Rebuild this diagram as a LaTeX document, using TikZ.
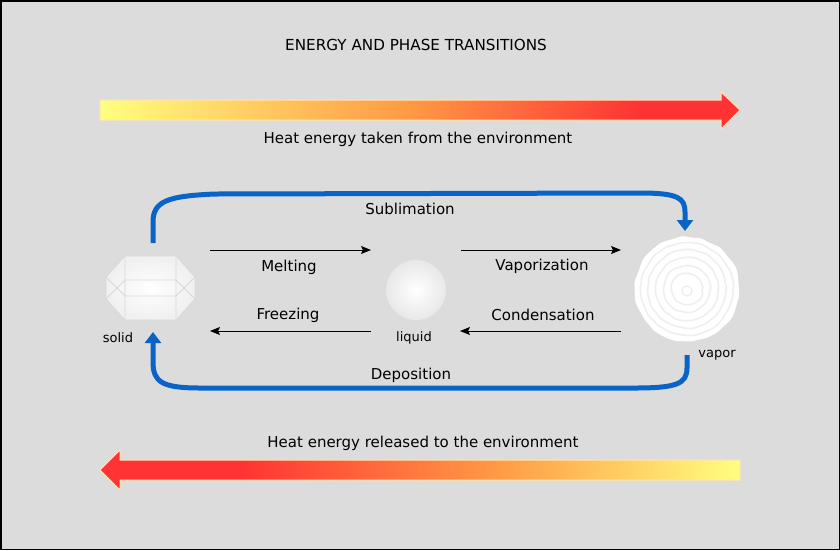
\documentclass[tikz,border=0pt]{standalone}
\usepackage{fontspec}
\setmainfont{DejaVu Sans}
\usetikzlibrary{arrows.meta,decorations.pathmorphing}
\definecolor{bg}{HTML}{DCDCDC}
\definecolor{hy}{HTML}{FFFF80}
\definecolor{ho}{HTML}{FF9A45}
\definecolor{hr}{HTML}{FF3333}
\definecolor{edgecol}{HTML}{FFE6B0}
\definecolor{blu}{HTML}{0A64C8}
\definecolor{facet}{HTML}{D8D8D8}
\definecolor{ring}{HTML}{EFEFEF}
\pgfdeclarehorizontalshading{heatR}{100bp}{color(0bp)=(hy); color(25bp)=(hy); color(49bp)=(ho); color(67bp)=(hr); color(100bp)=(hr)}
\pgfdeclarehorizontalshading{heatL}{100bp}{color(0bp)=(hr); color(25bp)=(hr); color(36bp)=(hr); color(56bp)=(ho); color(75bp)=(hy); color(100bp)=(hy)}
\begin{document}
\begin{tikzpicture}[x=1pt,y=-1pt,
  lbl/.style={inner sep=0pt,font=\fontsize{15}{18}\selectfont},
  small/.style={inner sep=0pt,font=\fontsize{13}{15}\selectfont},
  flow/.style={-{Stealth[length=10pt,width=8pt,inset=2pt]},line width=1pt},
  phase/.style={line width=5pt,draw=blu,-{Triangle[length=11pt,width=16pt]}},
  heatarrow/.style={draw=edgecol,line width=1pt}]
\useasboundingbox (0,0) rectangle (840,550);
\fill[bg] (0,0) rectangle (840,550);
\draw[black,line width=1.5pt] (0.75,0.75) rectangle (839.25,549.25);

% title
\node[lbl,font=\fontsize{15.2}{18}\selectfont] (title) at (416,45) {ENERGY AND PHASE TRANSITIONS};

% heat arrows
\path[shading=heatR,heatarrow] (100,100) -- (721,100) -- (721,92) -- (740,110) -- (721,129) -- (721,120) -- (100,120) -- cycle;
\node[lbl] (heatin) at (418,139) {Heat energy taken from the environment};
\path[shading=heatL,heatarrow] (740,460) -- (120,460) -- (120,450) -- (100,470) -- (120,490) -- (120,480) -- (740,480) -- cycle;
\node[lbl] (heatout) at (423,443.5) {Heat energy released to the environment};

% solid
\shade[inner color=white,outer color=black!6,draw=facet,line width=0.8pt]
  (125,256) -- (176,256) -- (195,277) -- (195,299) -- (176,320) -- (125,320) -- (106,299) -- (106,277) -- cycle;
\draw[facet,line width=0.8pt] (125,256) -- (125,320) (176,256) -- (176,320)
  (125,280) -- (176,280) (125,296) -- (176,296)
  (106,277) -- (125,296) (106,299) -- (125,280)
  (195,277) -- (176,296) (195,299) -- (176,280);
\node[small] (solid) at (118,338) {solid};

% liquid
\shade[inner color=white,outer color=black!9] (416,290) circle (30);
\node[small] (liquid) at (414,338) {liquid};

% vapor
\pgfmathsetseed{7}
\fill[white,decorate,decoration={random steps,segment length=7pt,amplitude=1pt},rounded corners=3pt] (687,289) circle (52);
\pgfmathsetseed{11}
\foreach \r in {46,39,31,23,15}{
  \draw[ring,line width=1.6pt,decorate,decoration={random steps,segment length=6pt,amplitude=0.8pt},rounded corners=2pt] (687,289) circle (\r);
}
\draw[black!7,line width=1.2pt] (687,291) circle (5);
\node[small] (vapor) at (717,355) {vapor};

% black transition arrows
\coordinate (melt0) at (210,250);
\coordinate (melt1) at (371,250);
\coordinate (vap0) at (461,250);
\coordinate (vap1) at (621,250);
\coordinate (frz0) at (371,331);
\coordinate (frz1) at (210,331);
\coordinate (con0) at (621,331);
\coordinate (con1) at (460,331);
\draw[flow] (melt0) -- (melt1);
\draw[flow] (vap0) -- (vap1);
\draw[flow] (frz0) -- (frz1);
\draw[flow] (con0) -- (con1);
\node[lbl] (melting) at (289,267.5) {Melting};
\node[lbl] (vaporization) at (542,266.5) {Vaporization};
\node[lbl] (freezing) at (288,315) {Freezing};
\node[lbl] (condensation) at (543,314.5) {Condensation};

% blue sublimation / deposition
\coordinate (sub0) at (153,243);
\coordinate (sub1) at (685,231);
\coordinate (dep0) at (687,355);
\coordinate (dep1) at (153,332);
\draw[phase] (sub0) -- (153,222) .. controls (153,201) and (168,196) .. (215,194) -- (640,193) .. controls (678,193) and (685,198) .. (685,212) -- (sub1);
\draw[phase] (dep0) -- (687,368) .. controls (687,384) and (676,388) .. (635,388) -- (200,388) .. controls (162,388) and (153,382) .. (153,362) -- (dep1);
\node[lbl] (sublimation) at (410,209) {Sublimation};
\node[lbl] (deposition) at (411,375) {Deposition};
\end{tikzpicture}
\end{document}
